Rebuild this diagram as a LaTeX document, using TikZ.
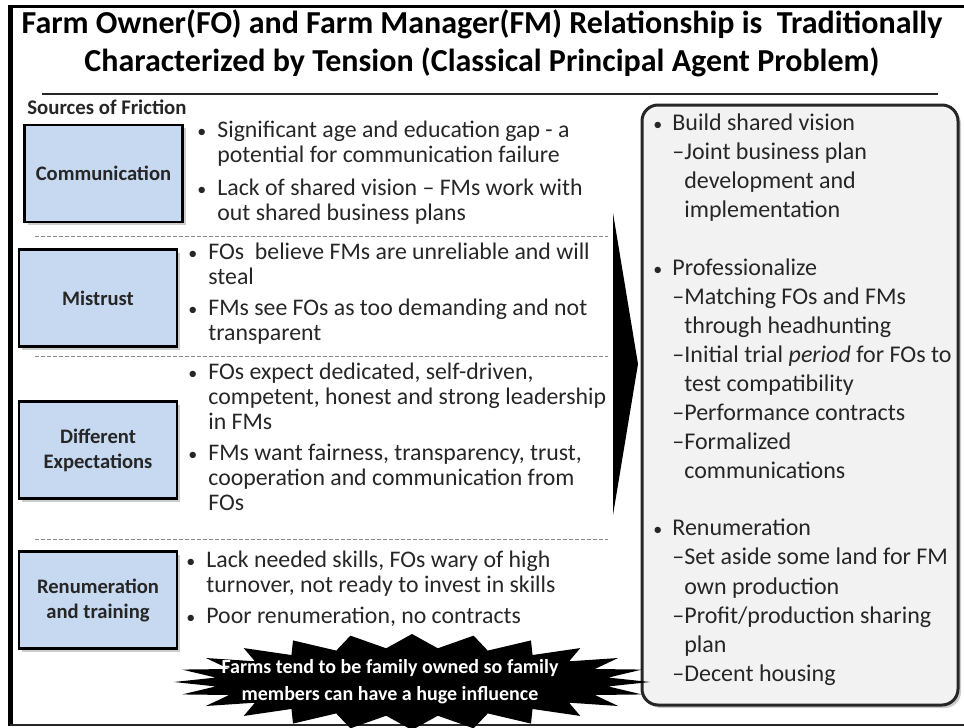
\documentclass[tikz,border=0pt]{standalone}
\usepackage{fontspec}
\setmainfont{Carlito}
\usetikzlibrary{positioning,shadows}
\definecolor{boxblue}{HTML}{C6D9F1}
\definecolor{panel}{HTML}{F2F2F2}
\definecolor{ink}{HTML}{262626}
\definecolor{rulegray}{HTML}{8C8C8C}
\newcommand{\bulletmark}{{\fontsize{9}{9}\selectfont\textbullet}}

\tikzset{
  friction/.style={draw=black, line width=1.2pt, fill=boxblue, minimum width=79pt,
    minimum height=48.5pt, align=center, text=ink, font=\fontsize{10.3}{12.5}\selectfont\bfseries,
    drop shadow={shadow xshift=1.5pt, shadow yshift=-1.5pt, opacity=0.4}},
  bullets/.style={anchor=base west, inner sep=0pt, text=ink, font=\fontsize{11.9}{12.5}\selectfont},
  remedies/.style={anchor=base west, inner sep=0pt, text=ink, font=\fontsize{12}{14.5}\selectfont},
  divider/.style={rulegray, line width=0.5pt, dash pattern=on 2pt off 1pt},
}

\begin{document}
\begin{tikzpicture}[x=0.5pt,y=-0.5pt]
\useasboundingbox (0,0) rectangle (964,728);
% frame
\draw[line width=1.5pt] (964,6) -- (10,6);
\draw[line width=2.5pt] (10,5) -- (10,726);
\draw[ink, line width=1pt] (10,725) -- (964,725);

% heading
\node[align=center, inner sep=0pt, font=\fontsize{16}{19}\selectfont\bfseries] (head) at (482,43)
  {Farm Owner(FO) and Farm Manager(FM) Relationship is\ \ Traditionally\\
   Characterized by Tension (Classical Principal Agent Problem)};
\draw[ink, line width=1pt] (42,94) -- (938,94);

\node[anchor=west, inner sep=0pt, text=ink, font=\fontsize{10.4}{12}\selectfont\bfseries] (src) at (27,107) {Sources of Friction};

% sources of friction
\node[friction] (comm) at (103.5,173.5) {Communication};
\node[friction] (trust) at (98,298) {Mistrust};
\node[friction] (expect) at (98,450) {Different\\Expectations};
\node[friction] (pay) at (98,600) {Renumeration\\and training};

\node[bullets] (comm-t) at (197,137) {\begin{tabular}[t]{@{}p{10pt}@{}l@{}}
  \bulletmark & Significant age and education gap - a\\
  & potential for communication failure\\[4pt]
  \bulletmark & Lack of shared vision -- FMs work with\\
  & out shared business plans
\end{tabular}};
\node[bullets] (trust-t) at (188,259) {\begin{tabular}[t]{@{}p{10pt}@{}l@{}}
  \bulletmark & FOs\ \ believe FMs are unreliable and will\\
  & steal\\[3pt]
  \bulletmark & FMs see FOs as too demanding and not\\
  & transparent
\end{tabular}};
\node[bullets] (expect-t) at (188,379) {\begin{tabular}[t]{@{}p{10pt}@{}l@{}}
  \bulletmark & FOs expect dedicated, self-driven,\\
  & competent, honest and strong leadership\\
  & in FMs\\[3pt]
  \bulletmark & FMs want fairness, transparency, trust,\\
  & cooperation and communication from\\
  & FOs
\end{tabular}};
\node[bullets] (pay-t) at (186,567) {\begin{tabular}[t]{@{}p{10pt}@{}l@{}}
  \bulletmark & Lack needed skills, FOs wary of high\\
  & turnover, not ready to invest in skills\\[3pt]
  \bulletmark & Poor renumeration, no contracts
\end{tabular}};

\draw[divider] (35,236) -- (608,236);
\draw[divider] (35,356) -- (608,356);
\draw[divider] (35,539) -- (608,539);

% wedge pointing to the remedies
\fill (613,213) -- (638,364) -- (613,515) -- cycle;

% remedies
\node[draw=ink, line width=1.5pt, fill=panel, rounded corners=8pt, minimum width=158pt,
  minimum height=300pt, drop shadow={shadow xshift=1.5pt, shadow yshift=-1.5pt, opacity=0.4}] (plan) at (800,405) {};
\node[remedies] (plan-t) at (653,130) {\begin{tabular}[t]{@{}p{9.5pt}@{}l@{}l@{}}
  \bulletmark & \multicolumn{2}{@{}l@{}}{Build shared vision}\\
  & --& Joint business plan\\
  & & development and\\
  & & implementation\\[14.5pt]
  \bulletmark & \multicolumn{2}{@{}l@{}}{Professionalize}\\
  & --& Matching FOs and FMs\\
  & & through headhunting\\
  & --& Initial trial \emph{period} for FOs to\\
  & & test compatibility\\
  & --& Performance contracts\\
  & --& Formalized\\
  & & communications\\[14.5pt]
  \bulletmark & \multicolumn{2}{@{}l@{}}{Renumeration}\\
  & --& Set aside some land for FM\\
  & & own production\\
  & --& Profit/production sharing\\
  & & plan\\
  & --& Decent housing
\end{tabular}};

% family influence burst
\fill[black] plot[samples at={0,7.5,...,352.5}, variable=\t]
  ({412+(238-40*mod(round(\t/7.5),2))*cos(\t)}, {682+(48-14*mod(round(\t/7.5),2))*sin(\t)}) -- cycle;
\node[align=center, text=white, font=\fontsize{10}{13.5}\selectfont\bfseries] (note) at (390,682)
  {Farms tend to be family owned so family\\members can have a huge influence};
\end{tikzpicture}
\end{document}
